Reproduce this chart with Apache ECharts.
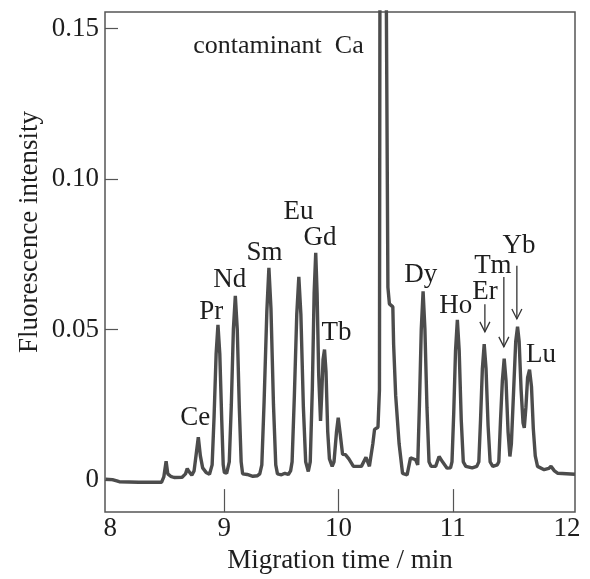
<!DOCTYPE html>
<html lang="en">
<head>
	<meta charset="UTF-8">
	<title>Electropherogram of lanthanides</title>
	<style>
		html, body { margin: 0; padding: 0; background: #fff; }
		#chart { width: 590px; height: 579px; }
	</style>
</head>
<body>
<div id="chart"></div>

<script src="https://cdn.jsdelivr.net/npm/echarts@6/dist/echarts.min.js"></script>
<script>

	// trace (migration time in min, intensity)
	var migrationTime = [
		7.96, 8.02, 8.08, 8.25, 8.45, 8.47, 8.49, 8.505, 8.53, 8.56, 8.63, 8.66, 8.675, 8.69, 8.70, 8.715,
		8.735, 8.755, 8.772, 8.79, 8.81, 8.84, 8.87,
		8.893, 8.91, 8.928, 8.944, 8.96, 8.977, 8.99, 9.0, 9.02,
		9.043, 9.061, 9.079, 9.096, 9.113, 9.131, 9.147, 9.16,
		9.2, 9.25, 9.29, 9.31,
		9.328, 9.348, 9.372, 9.39, 9.408, 9.43, 9.45, 9.465,
		9.50, 9.53, 9.56, 9.58,
		9.593, 9.613, 9.634, 9.652, 9.67, 9.692, 9.712, 9.735,
		9.752, 9.77, 9.786, 9.80, 9.812, 9.826, 9.842,
		9.852, 9.864, 9.877, 9.89, 9.905, 9.92, 9.944,
		9.96, 9.982, 9.997, 10.012, 10.035, 10.06, 10.09, 10.13, 10.2, 10.24, 10.27, 10.30, 10.315, 10.345,
		10.358, 10.362, 10.39, 10.418, 10.432, 10.445, 10.475, 10.482, 10.50, 10.53, 10.56,
		10.60, 10.63, 10.675, 10.693,
		10.708, 10.724, 10.74, 10.756, 10.774, 10.792, 10.81, 10.85, 10.88, 10.91, 10.95, 10.98,
		10.993, 11.008, 11.024, 11.04, 11.056, 11.074, 11.092, 11.114, 11.17, 11.21,
		11.228, 11.243, 11.259, 11.275, 11.291, 11.309, 11.327, 11.35, 11.39,
		11.403, 11.418, 11.434, 11.45, 11.466, 11.484, 11.50,
		11.513, 11.533, 11.551, 11.567, 11.581, 11.598, 11.615, 11.626,
		11.64, 11.655, 11.672, 11.689, 11.705, 11.722, 11.742, 11.80, 11.84, 11.86, 11.89, 11.92, 12.07
	];
	var intensity = [
		0.0002, 0.0001, -0.0006, -0.0008, -0.0008, 0.001, 0.0062, 0.002, 0.0012, 0.0008, 0.0009, 0.002, 0.0038, 0.0028, 0.003, 0.0016,
		0.003, 0.009, 0.0142, 0.008, 0.004, 0.0025, 0.0019,
		0.005, 0.021, 0.042, 0.0515, 0.042, 0.020, 0.005, 0.0025, 0.0022,
		0.006, 0.025, 0.050, 0.0612, 0.050, 0.024, 0.006, 0.002,
		0.0018, 0.0012, 0.0014, 0.002,
		0.005, 0.026, 0.056, 0.0705, 0.057, 0.025, 0.005, 0.002,
		0.0017, 0.0022, 0.0018, 0.003,
		0.006, 0.028, 0.055, 0.0675, 0.055, 0.024, 0.006, 0.0028,
		0.006, 0.030, 0.062, 0.0755, 0.062, 0.035, 0.0196,
		0.028, 0.040, 0.0433, 0.036, 0.016, 0.007, 0.0045,
		0.006, 0.016, 0.0207, 0.016, 0.0085, 0.0084, 0.007, 0.0045, 0.0045, 0.0075, 0.0045, 0.012, 0.0168, 0.0175,
		0.03, 0.16, 0.5, 0.16, 0.064, 0.0585, 0.0575, 0.045, 0.028, 0.012, 0.0022,
		0.0017, 0.0073, 0.0067, 0.005,
		0.025, 0.050, 0.0627, 0.050, 0.024, 0.006, 0.0045, 0.0045, 0.0078, 0.006, 0.0039, 0.004,
		0.006, 0.022, 0.043, 0.0532, 0.043, 0.020, 0.006, 0.0045, 0.004, 0.0045,
		0.006, 0.020, 0.037, 0.0451, 0.037, 0.018, 0.006, 0.0045, 0.005,
		0.006, 0.020, 0.033, 0.0403, 0.033, 0.016, 0.0078,
		0.012, 0.030, 0.046, 0.0509, 0.046, 0.030, 0.019, 0.0173,
		0.024, 0.034, 0.0366, 0.031, 0.017, 0.008, 0.0045, 0.0034, 0.0038, 0.0045, 0.003, 0.0022, 0.0019
	];

	var xTickMarks = [9, 10, 11];
	var xTickLabels = [8, 9, 10, 11, 12];
	var yTicks = [0, 0.05, 0.10, 0.15];

	// peak names and where their text sits (data coords)
	var peakNames = ['contaminant  Ca', 'Ce', 'Pr', 'Nd', 'Sm', 'Eu', 'Gd', 'Tb', 'Dy', 'Ho', 'Er', 'Tm', 'Yb', 'Lu'];
	var peakLabelT = [9.474, 8.746, 8.886, 9.048, 9.351, 9.649, 9.838, 9.982, 10.719, 11.026, 11.281, 11.351, 11.579, 11.772];
	var peakLabelV = [0.1441, 0.0207, 0.0558, 0.0664, 0.0756, 0.0889, 0.0803, 0.0488, 0.0680, 0.0578, 0.0626, 0.0710, 0.0779, 0.0415];

	// arrows for Er, Tm, Yb
	var arrowT = [11.281, 11.447, 11.561];
	var arrowFrom = [0.0584, 0.0674, 0.0712];
	var arrowTo = [0.0492, 0.0442, 0.0535];

	var fontFam = 'Liberation Serif';
	var ink = '#1e1e1e';
	var frameCol = '#555';

	var chart = echarts.init(document.getElementById('chart'), null, {renderer: 'canvas'});

	var traceData = [];
	for (var i = 0; i < migrationTime.length; i++) {
		traceData.push([migrationTime[i], intensity[i]]);
	}

	var option = {
		animation: false,
		backgroundColor: '#fff',
		grid: {
			left: 105, right: 15, top: 12, bottom: 65,
			show: true, borderColor: frameCol, borderWidth: 1.5, backgroundColor: 'transparent'
		},
		xAxis: {
			type: 'value',
			min: 7.955, max: 12.07,
			splitLine: {show: false},
			axisLine: {show: false, onZero: false},
			axisTick: {show: true, inside: true, length: 23, customValues: xTickMarks, lineStyle: {color: frameCol, width: 1.2}},
			axisLabel: {customValues: xTickLabels, margin: 3, color: ink, fontFamily: fontFam, fontSize: 27},
			name: 'Migration time / min',
			nameLocation: 'middle',
			nameGap: 30,
			nameTextStyle: {color: ink, fontFamily: fontFam, fontSize: 27}
		},
		yAxis: {
			type: 'value',
			min: -0.0107, max: 0.1555,
			splitLine: {show: false},
			axisLine: {show: false, onZero: false},
			axisTick: {show: true, inside: true, length: 13, customValues: yTicks, lineStyle: {color: frameCol, width: 1.2}},
			axisLabel: {
				customValues: yTicks, margin: 6, color: ink, fontFamily: fontFam, fontSize: 27,
				formatter: function (v) { return v === 0 ? '0' : v.toFixed(2); }
			}
		},
		series: [{
			name: 'trace',
			type: 'line',
			data: traceData,
			showSymbol: false,
			clip: true,
			lineStyle: {color: '#4c4c4c', width: 3.4},
			z: 3
		}]
	};

	chart.setOption(option);

	function drawNotes() {
		var g = [];
		g.push({
			type: 'text', x: 30, y: 232, rotation: Math.PI / 2,
			style: {text: 'Fluorescence intensity', fill: ink, font: '27px "' + fontFam + '"', align: 'center', verticalAlign: 'middle'}
		});
		for (var i = 0; i < peakNames.length; i++) {
			var p = chart.convertToPixel({gridIndex: 0}, [peakLabelT[i], peakLabelV[i]]);
			g.push({
				type: 'text', x: p[0], y: p[1],
				style: {text: peakNames[i], fill: ink, font: (i === 0 ? 26 : 27) + 'px "' + fontFam + '"', align: 'center', verticalAlign: 'middle'}
			});
		}
		for (var j = 0; j < arrowT.length; j++) {
			var a = chart.convertToPixel({gridIndex: 0}, [arrowT[j], arrowFrom[j]]);
			var b = chart.convertToPixel({gridIndex: 0}, [arrowT[j], arrowTo[j]]);
			g.push({type: 'line', shape: {x1: a[0], y1: a[1], x2: b[0], y2: b[1]}, style: {stroke: '#333', lineWidth: 1.3}});
			g.push({type: 'polyline', shape: {points: [[b[0] - 5, b[1] - 10], [b[0], b[1]], [b[0] + 5, b[1] - 10]]}, style: {stroke: '#333', fill: null, lineWidth: 1.3}});
		}
		chart.setOption({graphic: g});
	}

	drawNotes();

</script>
</body>
</html>
